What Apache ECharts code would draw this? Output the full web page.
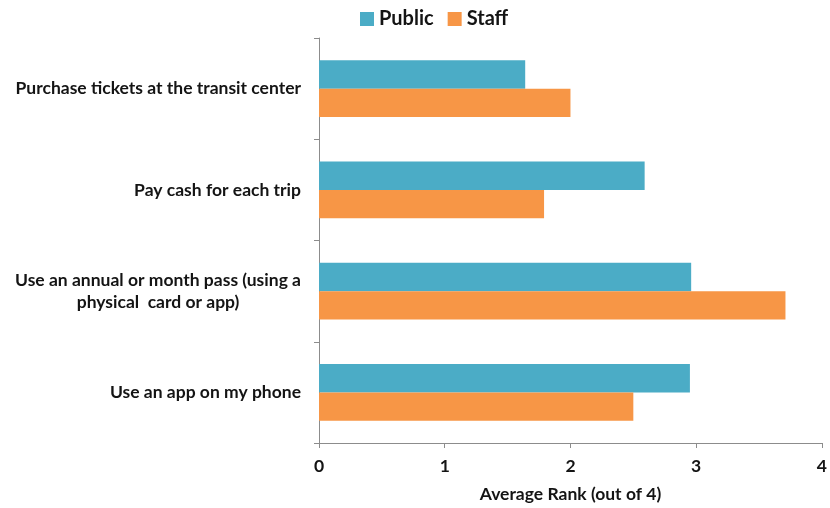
<!DOCTYPE html>
<html>
<head>
<meta charset="utf-8">
<script src="https://cdn.jsdelivr.net/npm/echarts@6/dist/echarts.min.js"></script>
<style>
  html, body { margin: 0; padding: 0; background: #fff; overflow: hidden; }
  #chart { width: 830px; height: 508px; }
</style>
</head>
<body>
<div id="chart"></div>
<script>
// Payment options, listed top to bottom
const categories = [
  'Purchase tickets at the transit center',
  'Pay cash for each trip',
  'Use an annual or month pass (using a\nphysical  card or app)',
  'Use an app on my phone'
];
const publicRank = [1.64, 2.59, 2.96, 2.95];
const staffRank = [2.0, 1.79, 3.71, 2.5];
const xTicks = [0, 1, 2, 3, 4];

const FONT = 'Lato, "Open Sans", sans-serif';
const AXIS_GREY = '#8c8c8c';
const TEXT = '#141414';

const chart = echarts.init(document.getElementById('chart'), null, { renderer: 'canvas' });

chart.setOption({
  animation: false,
  textStyle: { fontFamily: FONT },
  legend: {
    top: 4,
    left: 355,
    itemWidth: 14,
    itemHeight: 14,
    itemGap: 14,
    icon: 'rect',
    textStyle: { fontFamily: FONT, fontWeight: 'bold', fontSize: 20, color: TEXT },
    data: ['Public', 'Staff']
  },
  grid: { left: 319, right: 3, top: 38, bottom: 63, containLabel: false },
  xAxis: {
    type: 'value',
    min: xTicks[0],
    max: xTicks[xTicks.length - 1],
    interval: 1,
    name: 'Average Rank (out of 4)',
    nameLocation: 'middle',
    nameGap: 42,
    nameTextStyle: { fontFamily: FONT, fontWeight: 'bold', fontSize: 17.5, color: TEXT },
    axisLine: { show: true, lineStyle: { color: AXIS_GREY, width: 1 } },
    axisTick: { show: true, length: 5, lineStyle: { color: AXIS_GREY } },
    axisLabel: { margin: 14, fontFamily: FONT, fontWeight: 'bold', fontSize: 17.5, color: TEXT },
    splitLine: { show: false }
  },
  yAxis: {
    type: 'category',
    inverse: true,
    data: categories,
    axisLine: { show: true, lineStyle: { color: AXIS_GREY, width: 1 } },
    axisTick: { show: true, length: 5, alignWithLabel: false, lineStyle: { color: AXIS_GREY } },
    axisLabel: {
      margin: 18,
      formatter: function (v) {
        return v.split('\n').map(function (line) { return '{c|' + line + '}'; }).join('\n');
      },
      rich: {
        c: { align: 'center', fontFamily: FONT, fontWeight: 'bold', fontSize: 17.5, color: TEXT, lineHeight: 22 }
      }
    },
    splitLine: { show: false }
  },
  series: [
    {
      name: 'Public',
      type: 'bar',
      data: publicRank,
      barGap: '0%',
      barCategoryGap: '44%',
      itemStyle: { color: '#4bacc6' }
    },
    {
      name: 'Staff',
      type: 'bar',
      data: staffRank,
      itemStyle: { color: '#f79646' }
    }
  ]
});
</script>
</body>
</html>
